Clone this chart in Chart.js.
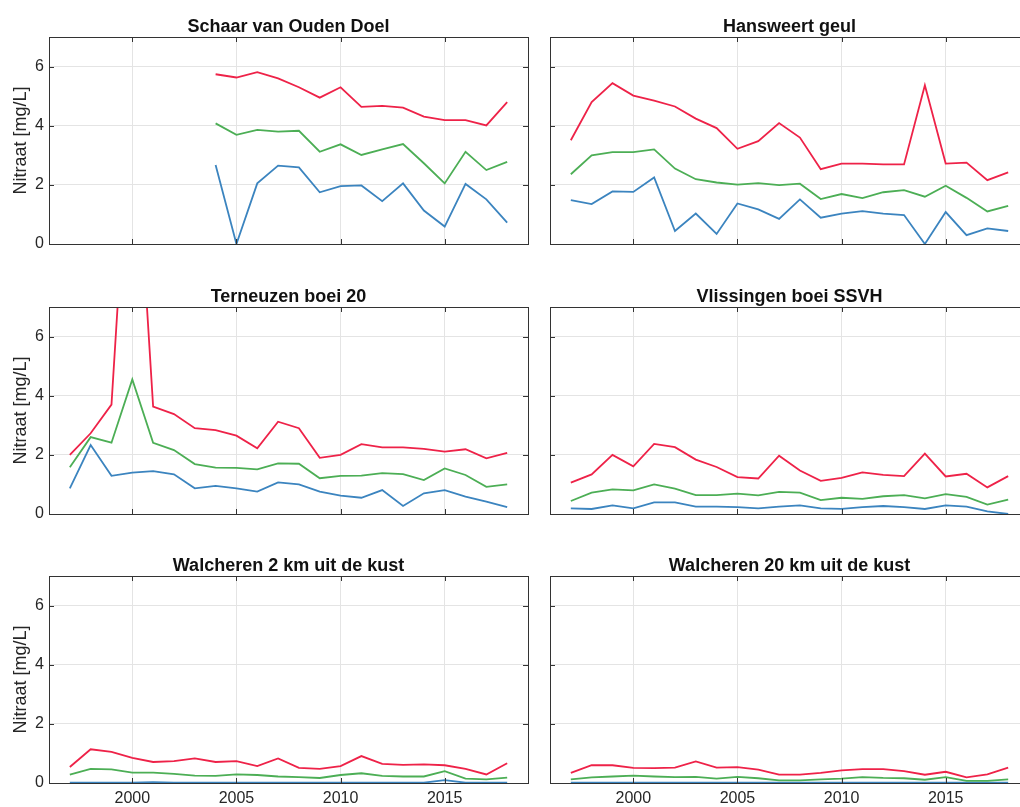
<!DOCTYPE html>
<html>
<head>
<meta charset="utf-8">
<title>Nitraat</title>
<script src="https://cdn.jsdelivr.net/npm/chart.js@4.4.0/dist/chart.umd.min.js"></script>
<style>
  html, body { margin: 0; padding: 0; overflow: hidden; background: #fff; }
  #wrap { position: relative; width: 1020px; height: 807px; overflow: hidden; }
  #wrap canvas { position: absolute; }
</style>
</head>
<body>
<div id="wrap">
  <canvas id="p1" width="538" height="260" style="left:0;top:0"></canvas>
  <canvas id="p2" width="510" height="260" style="left:530px;top:0"></canvas>
  <canvas id="p3" width="538" height="260" style="left:0;top:270px"></canvas>
  <canvas id="p4" width="510" height="260" style="left:530px;top:270px"></canvas>
  <canvas id="p5" width="538" height="268" style="left:0;top:539px"></canvas>
  <canvas id="p6" width="510" height="268" style="left:530px;top:539px"></canvas>
</div>
<script>
// jaren
const years = [1997, 1998, 1999, 2000, 2001, 2002, 2003, 2004, 2005, 2006, 2007,
  2008, 2009, 2010, 2011, 2012, 2013, 2014, 2015, 2016, 2017, 2018];
const schaarYears = [2004, 2005, 2006, 2007, 2008, 2009, 2010, 2011, 2012, 2013, 2014, 2015, 2016, 2017, 2018];
const yearTicks = [2000, 2005, 2010, 2015];
const valueTicks = [0, 2, 4, 6];

// Schaar van Ouden Doel
const schaarHoog = [5.74, 5.63, 5.81, 5.6, 5.3, 4.95, 5.3, 4.64, 4.67, 4.61, 4.31, 4.19, 4.19, 4.01, 4.8];
const schaarMidden = [4.08, 3.69, 3.86, 3.8, 3.83, 3.12, 3.37, 3.01, 3.2, 3.38, 2.73, 2.05, 3.12, 2.5, 2.78];
const schaarLaag = [2.67, 0, 2.05, 2.65, 2.59, 1.75, 1.96, 1.98, 1.45, 2.05, 1.13, 0.59, 2.03, 1.51, 0.72];

// Hansweert geul
const hansHoog = [3.51, 4.8, 5.44, 5.02, 4.85, 4.65, 4.24, 3.92, 3.22, 3.48, 4.09, 3.6, 2.53, 2.72, 2.72, 2.69, 2.69, 5.37, 2.72, 2.75, 2.16, 2.42];
const hansMidden = [2.36, 3.0, 3.11, 3.11, 3.2, 2.55, 2.19, 2.08, 2.01, 2.06, 1.99, 2.04, 1.52, 1.69, 1.55, 1.75, 1.82, 1.6, 1.97, 1.56, 1.1, 1.29];
const hansLaag = [1.48, 1.35, 1.78, 1.76, 2.25, 0.44, 1.03, 0.34, 1.37, 1.17, 0.85, 1.51, 0.89, 1.03, 1.11, 1.03, 0.98, 0, 1.08, 0.3, 0.53, 0.44];

// Terneuzen boei 20
const ternHoog = [2.0, 2.73, 3.7, 15, 3.63, 3.38, 2.9, 2.84, 2.65, 2.22, 3.12, 2.9, 1.9, 2.0, 2.36, 2.25, 2.25, 2.2, 2.11, 2.19, 1.88, 2.07];
const ternMidden = [1.58, 2.6, 2.41, 4.55, 2.41, 2.16, 1.69, 1.57, 1.56, 1.51, 1.71, 1.7, 1.21, 1.29, 1.3, 1.38, 1.35, 1.15, 1.54, 1.32, 0.92, 1.0];
const ternLaag = [0.87, 2.33, 1.29, 1.4, 1.45, 1.34, 0.87, 0.95, 0.87, 0.76, 1.07, 1.0, 0.76, 0.62, 0.55, 0.81, 0.27, 0.7, 0.81, 0.59, 0.42, 0.23];

// Vlissingen boei SSVH
const vlisHoog = [1.06, 1.34, 2.0, 1.61, 2.37, 2.26, 1.84, 1.59, 1.25, 1.2, 1.97, 1.47, 1.12, 1.22, 1.41, 1.32, 1.28, 2.04, 1.27, 1.36, 0.9, 1.28];
const vlisMidden = [0.44, 0.72, 0.83, 0.8, 1.0, 0.86, 0.64, 0.64, 0.69, 0.63, 0.75, 0.72, 0.47, 0.55, 0.51, 0.6, 0.64, 0.53, 0.67, 0.58, 0.32, 0.49];
const vlisLaag = [0.19, 0.17, 0.29, 0.19, 0.39, 0.39, 0.25, 0.25, 0.23, 0.19, 0.25, 0.29, 0.19, 0.17, 0.23, 0.27, 0.23, 0.17, 0.29, 0.25, 0.09, 0.0];

// Walcheren 2 km uit de kust
const wal2Hoog = [0.54, 1.14, 1.05, 0.85, 0.71, 0.74, 0.83, 0.71, 0.74, 0.57, 0.83, 0.51, 0.48, 0.57, 0.91, 0.65, 0.61, 0.63, 0.6, 0.48, 0.29, 0.67];
const wal2Midden = [0.28, 0.48, 0.46, 0.35, 0.35, 0.31, 0.25, 0.24, 0.29, 0.27, 0.22, 0.2, 0.17, 0.27, 0.33, 0.24, 0.22, 0.22, 0.4, 0.15, 0.12, 0.18];
const wal2Laag = [0.01, 0.01, 0.01, 0.01, 0.03, 0.01, 0.01, 0.01, 0.01, 0.01, 0.01, 0.01, 0.01, 0.01, 0.01, 0.01, 0.01, 0.01, 0.1, 0.01, 0.01, 0.01];

// Walcheren 20 km uit de kust
const wal20Hoog = [0.34, 0.6, 0.6, 0.51, 0.5, 0.52, 0.73, 0.52, 0.54, 0.45, 0.28, 0.28, 0.34, 0.43, 0.47, 0.47, 0.4, 0.28, 0.38, 0.19, 0.29, 0.52];
const wal20Midden = [0.12, 0.19, 0.22, 0.25, 0.22, 0.2, 0.21, 0.15, 0.21, 0.16, 0.09, 0.09, 0.12, 0.15, 0.2, 0.17, 0.16, 0.11, 0.2, 0.07, 0.07, 0.12];
const wal20Laag = [0.01, 0.01, 0.01, 0.01, 0.01, 0.01, 0.01, 0.01, 0.01, 0.01, 0.01, 0.01, 0.01, 0.01, 0.01, 0.01, 0.01, 0.01, 0.01, 0.01, 0.01, 0.01];

const FONT = '"Liberation Sans", Arial, Helvetica, sans-serif';
const AXIS = '#333333';
const TEXT = '#262626';

// box, inward tick marks and title (matlab look)
const frame = {
  id: 'frame',
  afterDraw(chart, args, opts) {
    const ctx = chart.ctx;
    const a = chart.chartArea;
    const x = chart.scales.x;
    const y = chart.scales.y;
    ctx.save();
    ctx.strokeStyle = AXIS;
    ctx.lineWidth = 1;
    ctx.beginPath();
    x.ticks.forEach(function (t) {
      const px = Math.round(x.getPixelForValue(t.value)) + 0.5;
      ctx.moveTo(px, a.bottom); ctx.lineTo(px, a.bottom - 5);
      ctx.moveTo(px, a.top); ctx.lineTo(px, a.top + 5);
    });
    y.ticks.forEach(function (t) {
      const py = Math.round(y.getPixelForValue(t.value)) + 0.5;
      ctx.moveTo(a.left, py); ctx.lineTo(a.left + 5, py);
      ctx.moveTo(a.right, py); ctx.lineTo(a.right - 5, py);
    });
    ctx.stroke();
    ctx.strokeRect(Math.round(a.left) + 0.5, Math.round(a.top) + 0.5,
      Math.round(a.right - a.left), Math.round(a.bottom - a.top));
    ctx.fillStyle = '#111';
    ctx.font = 'bold 18px ' + FONT;
    ctx.textAlign = 'center';
    ctx.textBaseline = 'alphabetic';
    ctx.fillText(opts.text, (a.left + a.right) / 2, a.top - 5);
    ctx.restore();
  }
};

function line(label, xs, ys, color) {
  return {
    label: label,
    data: xs.map(function (v, i) { return { x: v, y: ys[i] }; }),
    borderColor: color,
    borderWidth: 1.8,
    pointRadius: 0,
    tension: 0,
    fill: false
  };
}

function makePanel(id, title, xs, hoog, midden, laag, isLeft, isBottom) {
  const ctx = document.getElementById(id).getContext('2d');
  return new Chart(ctx, {
    type: 'line',
    data: {
      datasets: [
        line('hoog', xs, hoog, '#ee2248'),
        line('midden', xs, midden, '#4cae55'),
        line('laag', xs, laag, '#3b84bf')
      ]
    },
    options: {
      responsive: false,
      animation: false,
      layout: { padding: { top: 37, right: isLeft ? 10 : 11, left: 0, bottom: 0 } },
      plugins: {
        legend: { display: false },
        tooltip: { enabled: false },
        frame: { text: title }
      },
      scales: {
        x: {
          type: 'linear',
          min: 1996,
          max: 2019,
          afterBuildTicks: function (s) { s.ticks = yearTicks.map(function (v) { return { value: v }; }); },
          afterFit: function (s) { s.height = isBottom ? 24 : 16; },
          grid: { color: '#e4e4e4', drawTicks: false },
          border: { display: false },
          ticks: {
            display: isBottom,
            padding: 6,
            color: TEXT,
            font: { family: FONT, size: 16 },
            maxRotation: 0,
            callback: function (v) { return String(v); }
          }
        },
        y: {
          min: 0,
          max: 7,
          afterBuildTicks: function (s) { s.ticks = valueTicks.map(function (v) { return { value: v }; }); },
          afterFit: function (s) { s.width = isLeft ? 49 : 20; },
          grid: { color: '#e4e4e4', drawTicks: false },
          border: { display: false },
          ticks: {
            display: isLeft,
            padding: 5,
            color: TEXT,
            font: { family: FONT, size: 16 }
          },
          title: {
            display: isLeft,
            text: 'Nitraat [mg/L]',
            color: TEXT,
            font: { family: FONT, size: 18 },
            padding: { top: 10, bottom: 0 }
          }
        }
      }
    },
    plugins: [frame]
  });
}

makePanel('p1', 'Schaar van Ouden Doel', schaarYears, schaarHoog, schaarMidden, schaarLaag, true, false);
makePanel('p2', 'Hansweert geul', years, hansHoog, hansMidden, hansLaag, false, false);
makePanel('p3', 'Terneuzen boei 20', years, ternHoog, ternMidden, ternLaag, true, false);
makePanel('p4', 'Vlissingen boei SSVH', years, vlisHoog, vlisMidden, vlisLaag, false, false);
makePanel('p5', 'Walcheren 2 km uit de kust', years, wal2Hoog, wal2Midden, wal2Laag, true, true);
makePanel('p6', 'Walcheren 20 km uit de kust', years, wal20Hoog, wal20Midden, wal20Laag, false, true);
</script>
</body>
</html>
